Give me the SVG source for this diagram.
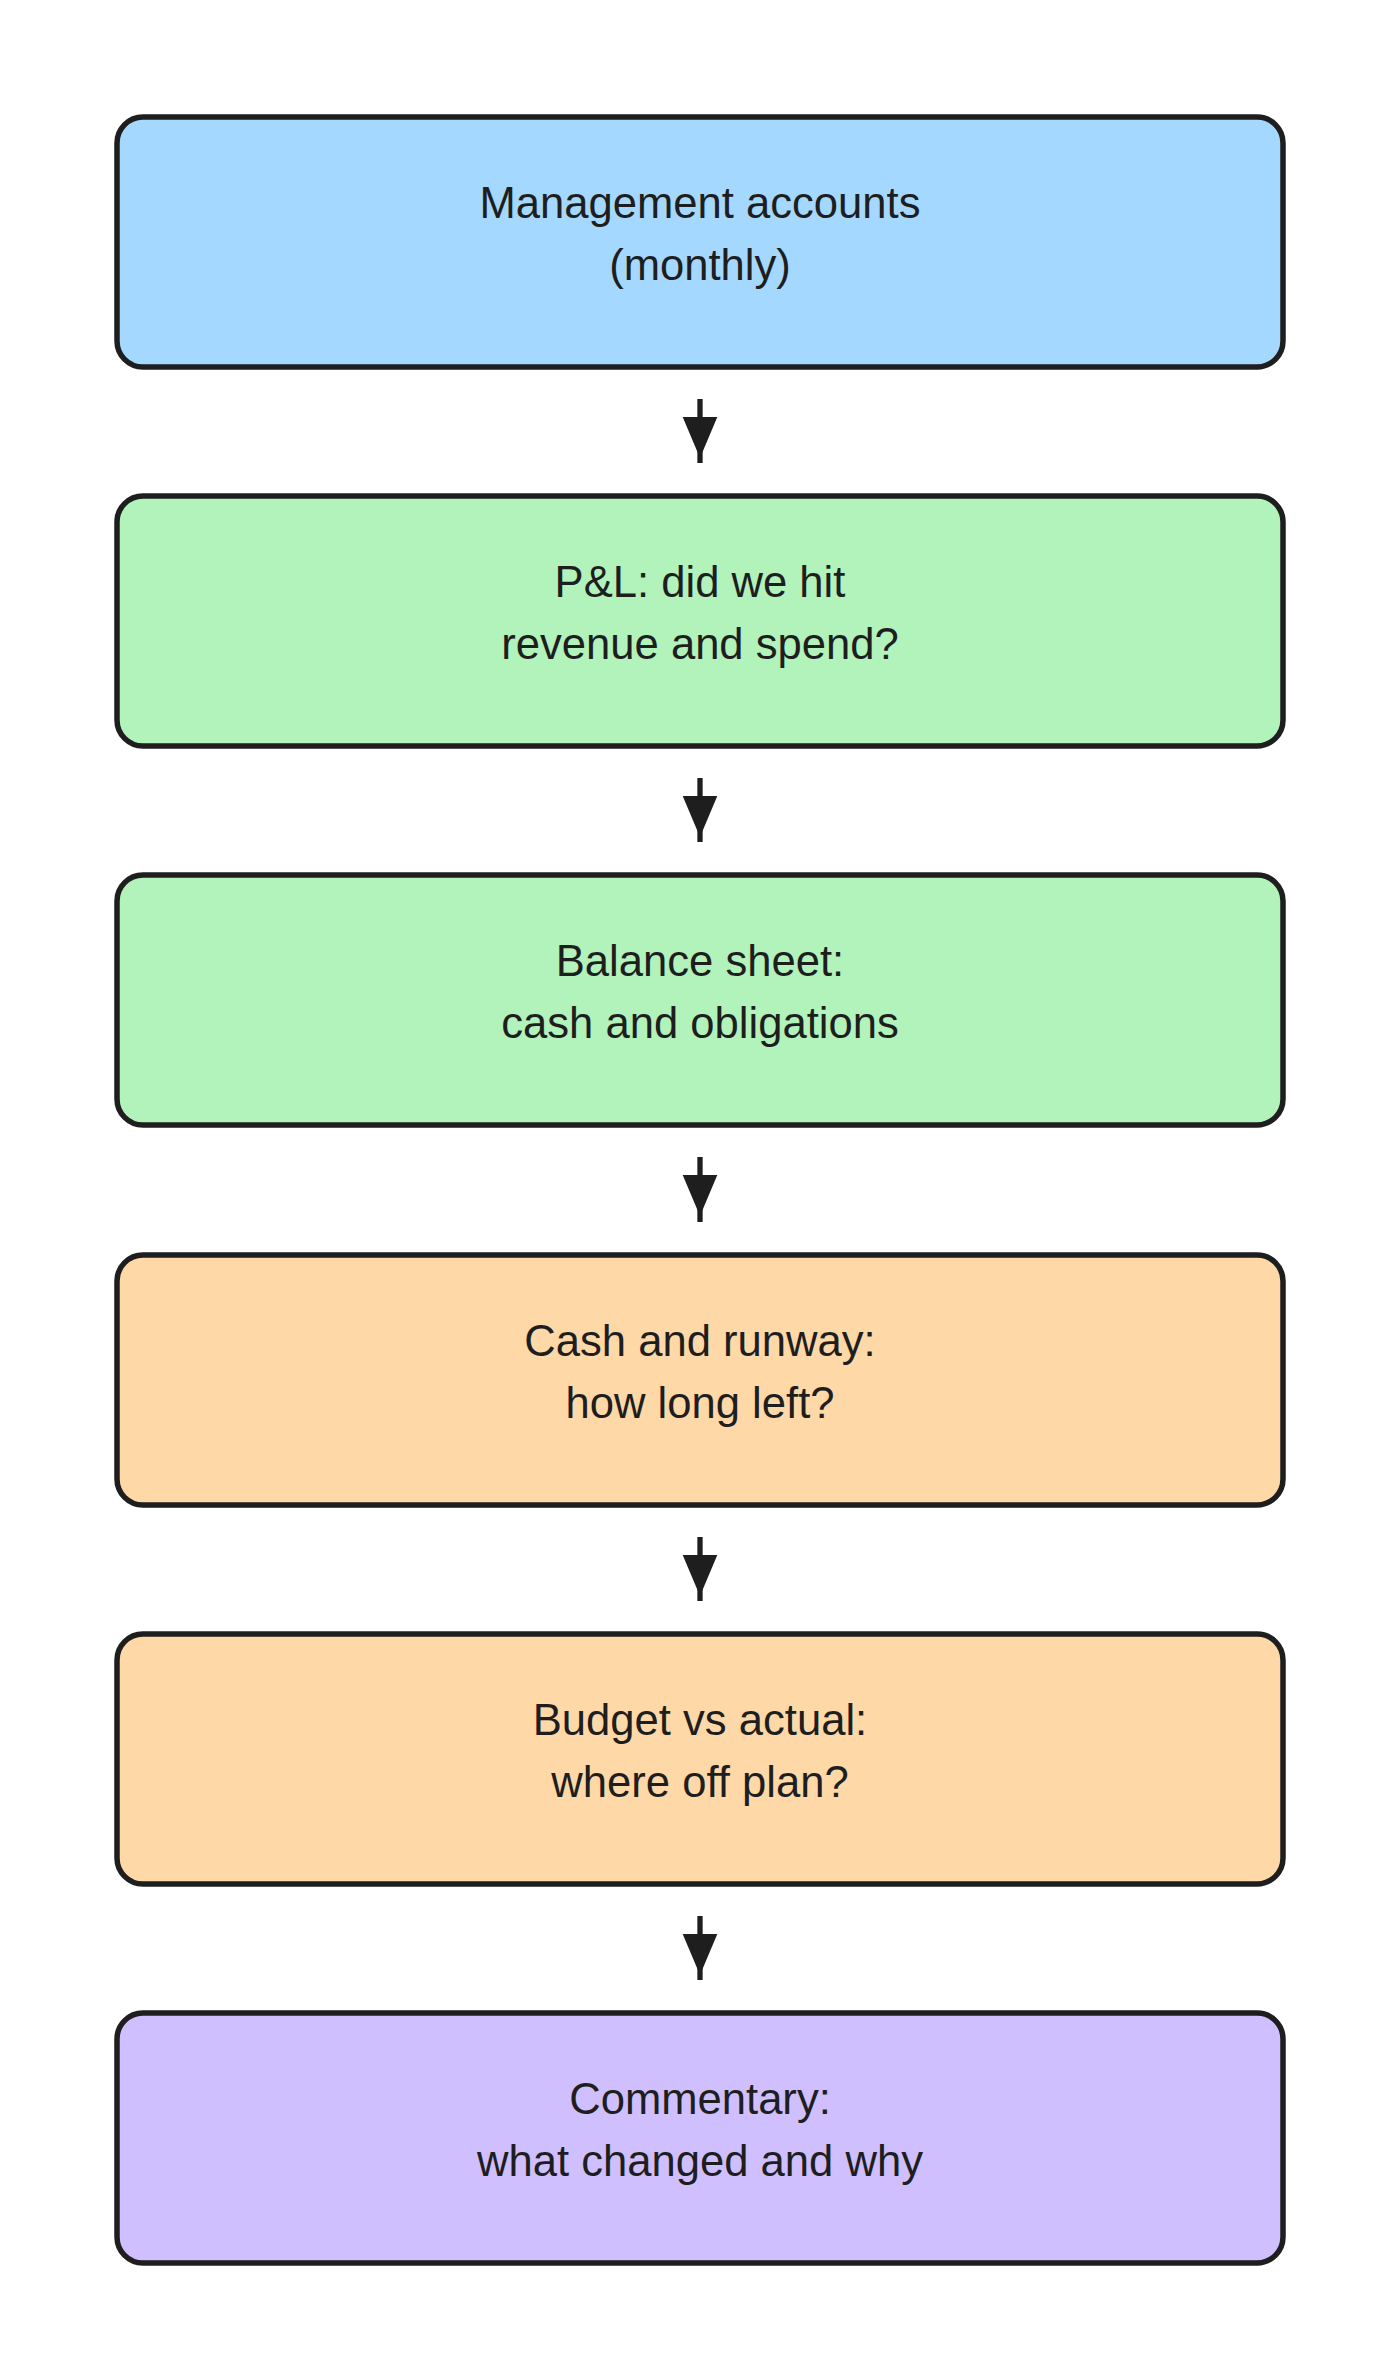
<svg xmlns="http://www.w3.org/2000/svg" width="1400" height="2380" viewBox="0 0 1400 2380">
<style>
.box{stroke:#1e1e1e;stroke-width:5.5}
.blue{fill:#a5d8ff}.green{fill:#b2f2bb}.orange{fill:#ffd8a8}.purple{fill:#d0bfff}
.t{font-family:"Liberation Sans",Arial,sans-serif;font-size:43.6px;fill:#1e1e1e;text-anchor:middle}
.ln{stroke:#1e1e1e;stroke-width:5.3;fill:none}
.hd{fill:#1e1e1e}
</style>
<rect width="1400" height="2380" fill="#ffffff"/>
<g id="n1"><rect class="box blue" x="117" y="117" width="1166" height="250" rx="26"/>
<text class="t" x="700" y="218">Management accounts</text><text class="t" x="700" y="280">(monthly)</text></g>
<g id="n2"><rect class="box green" x="117" y="496" width="1166" height="250" rx="26"/>
<text class="t" x="700" y="597">P&amp;L: did we hit</text><text class="t" x="700" y="659">revenue and spend?</text></g>
<g id="n3"><rect class="box green" x="117" y="875" width="1166" height="250" rx="26"/>
<text class="t" x="700" y="976">Balance sheet:</text><text class="t" x="700" y="1038">cash and obligations</text></g>
<g id="n4"><rect class="box orange" x="117" y="1255" width="1166" height="250" rx="26"/>
<text class="t" x="700" y="1356">Cash and runway:</text><text class="t" x="700" y="1418">how long left?</text></g>
<g id="n5"><rect class="box orange" x="117" y="1634" width="1166" height="250" rx="26"/>
<text class="t" x="700" y="1735">Budget vs actual:</text><text class="t" x="700" y="1797">where off plan?</text></g>
<g id="n6"><rect class="box purple" x="117" y="2013" width="1166" height="250" rx="26"/>
<text class="t" x="700" y="2114">Commentary:</text><text class="t" x="700" y="2176">what changed and why</text></g>
<g id="connectors">
<g><line class="ln" x1="700" y1="399" x2="700" y2="463"/><polygon class="hd" points="682.7,417 717.3,417 700,458"/></g>
<g><line class="ln" x1="700" y1="778" x2="700" y2="842"/><polygon class="hd" points="682.7,796 717.3,796 700,837"/></g>
<g><line class="ln" x1="700" y1="1157" x2="700" y2="1222"/><polygon class="hd" points="682.7,1175 717.3,1175 700,1216"/></g>
<g><line class="ln" x1="700" y1="1537" x2="700" y2="1601"/><polygon class="hd" points="682.7,1555 717.3,1555 700,1596"/></g>
<g><line class="ln" x1="700" y1="1916" x2="700" y2="1980"/><polygon class="hd" points="682.7,1934 717.3,1934 700,1975"/></g>
</g>
</svg>
